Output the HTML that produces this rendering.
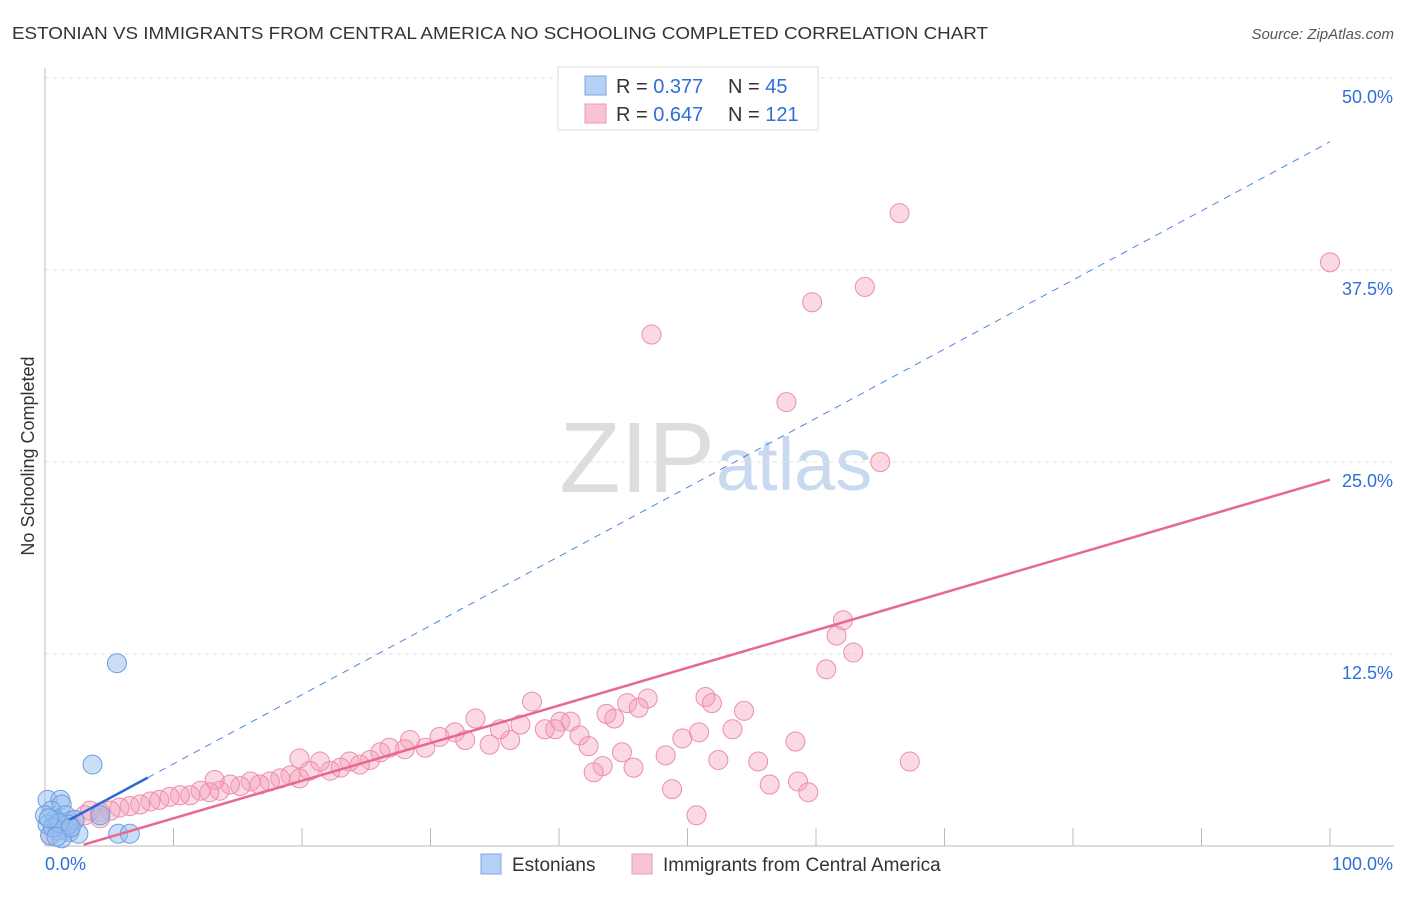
<!DOCTYPE html>
<html><head><meta charset="utf-8"><style>
body{margin:0;background:#fff;font-family:"Liberation Sans",sans-serif;}
svg text{font-family:"Liberation Sans",sans-serif;}
</style></head><body>
<svg width="1406" height="892" id="chart">
<text x="12" y="39" font-size="17.5" fill="#333" textLength="976" lengthAdjust="spacingAndGlyphs">ESTONIAN VS IMMIGRANTS FROM CENTRAL AMERICA NO SCHOOLING COMPLETED CORRELATION CHART</text>
<text x="1394" y="39" font-size="15" fill="#555" font-style="italic" text-anchor="end">Source: ZipAtlas.com</text>
<text x="34" y="456" font-size="18" fill="#333" text-anchor="middle" transform="rotate(-90 34 456)">No Schooling Completed</text>
<text x="715" y="492" font-size="100" fill="#ddd" text-anchor="end" font-family="Liberation Serif">ZIP</text>
<text x="716" y="490" font-size="74" fill="#c9d9f0">atlas</text>
<g id="grid"></g><g id="axes"></g><g id="pts"></g><g id="lines"></g>
<g>
<rect x="558" y="67" width="260" height="63" fill="#fff" stroke="#ddd"/>
<rect x="585" y="76" width="21" height="19" fill="#b5d0f5" stroke="#7aa6e3"/>
<rect x="585" y="104" width="21" height="19" fill="#fac3d3" stroke="#ee99b3"/>
<text x="616" y="93" font-size="20" fill="#333">R = <tspan fill="#2f6fd6">0.377</tspan></text>
<text x="728" y="93" font-size="20" fill="#333">N = <tspan fill="#2f6fd6"> 45</tspan></text>
<text x="616" y="121" font-size="20" fill="#333">R = <tspan fill="#2f6fd6">0.647</tspan></text>
<text x="728" y="121" font-size="20" fill="#333">N = <tspan fill="#2f6fd6">121</tspan></text>
</g>
<g>
<rect x="481" y="854" width="20" height="20" fill="#b5d0f5" stroke="#7aa6e3"/>
<text x="512" y="871" font-size="19" fill="#333">Estonians</text>
<rect x="632" y="854" width="20" height="20" fill="#fac3d3" stroke="#ee99b3"/>
<text x="663" y="871" font-size="19" fill="#333">Immigrants from Central America</text>
</g>
</svg>
<script>
const yTicks=[12.5,25,37.5,50];
const yTickLabels=["12.5%","25.0%","37.5%","50.0%"];
const blueX=[5.6,3.7,5.7,6.6,0.2,1.2,1.3,0.5,1.6,0.8,0.2,1.0,1.9,2.6,0.4,1.3,0,2.3,4.3,1.8,0.6,1.1,0.3,2.0,0.9];
const blueY=[11.9,5.3,0.8,0.8,3.0,3.0,2.7,2.3,2.0,1.7,1.4,1.0,0.9,0.8,0.7,0.5,2.0,1.7,2.0,1.4,1.2,1.5,1.8,1.2,0.6];
const pinkX=[66.5,100,63.8,59.7,47.2,57.7,65.0,62.1,61.6,62.9,60.8,51.4,51.9,54.4,46.9,45.3,46.2,43.7,44.3,37.9,33.5,53.5,50.9,49.6,58.4,52.4,55.5,67.3,48.3,44.9,45.8,43.4,42.7,56.4,58.6,59.4,48.8,50.7,
37.0,38.9,40.1,40.9,39.7,41.6,42.3,36.2,35.4,34.6,32.7,31.9,30.7,29.6,28.4,28.0,26.8,26.1,25.3,24.5,23.7,23.0,22.2,21.4,20.6,19.8,19.8,19.1,18.3,17.5,16.7,16.0,15.2,14.4,13.6,13.2,12.8,12.1,11.3,10.5,9.7,8.9,8.2,7.4,6.6,5.8,5.1,4.3,3.5,3.1,2.3,1.9,1.2,0.8,4.3,0.4,1.6,1.0,2.0];
const pinkY=[41.2,38.0,36.4,35.4,33.3,28.9,25.0,14.7,13.7,12.6,11.5,9.7,9.3,8.8,9.6,9.3,9.0,8.6,8.3,9.4,8.3,7.6,7.4,7.0,6.8,5.6,5.5,5.5,5.9,6.1,5.1,5.2,4.8,4.0,4.2,3.5,3.7,2.0,
7.9,7.6,8.1,8.1,7.6,7.2,6.5,6.9,7.6,6.6,6.9,7.4,7.1,6.4,6.9,6.3,6.4,6.1,5.6,5.3,5.5,5.1,4.9,5.5,4.9,5.7,4.4,4.6,4.4,4.2,4.0,4.2,3.9,4.0,3.6,4.3,3.5,3.6,3.3,3.3,3.2,3.0,2.9,2.7,2.6,2.5,2.3,2.2,2.3,2.0,1.7,1.6,1.4,1.2,1.8,0.7,1.0,1.5,1.2];
const blueTrend=[0.85,0.45];
const pinkTrend=[-0.65,0.245];
const NS="http://www.w3.org/2000/svg";
const X=v=>45+v*12.85, Y=v=>846-v*15.36;
function mk(p,t,a){const e=document.createElementNS(NS,t);for(const k in a)e.setAttribute(k,a[k]);document.getElementById(p).appendChild(e);return e;}
let e;
yTicks.forEach((t,i)=>{
 e=mk('grid','line',{x1:45,x2:1394,y1:Y(t),y2:Y(t),stroke:'#e2e2e2','stroke-dasharray':'4,4'});
 
 
 e=mk('grid','text',{x:1393,y:Y(t)+25,'font-size':18,fill:'#2f6fd6','text-anchor':'end'});e.textContent=yTickLabels[i];
 
 
});
e=mk('axes','line',{x1:45,x2:45,y1:68,y2:846,stroke:'#bbb'});


e=mk('axes','line',{x1:45,x2:1394,y1:846,y2:846,stroke:'#bbb'});


for(let i=1;i<=10;i++){e=mk('axes','line',{x1:X(i*10),x2:X(i*10),y1:828,y2:846,stroke:'#bbb'});
 
 }
e=mk('axes','text',{x:45,y:870,'font-size':18,fill:'#2f6fd6'});e.textContent='0.0%';


e=mk('axes','text',{x:1393,y:870,'font-size':18,fill:'#2f6fd6','text-anchor':'end'});e.textContent='100.0%';


pinkX.forEach((x,i)=>{e=mk('pts','circle',{cx:X(x),cy:Y(pinkY[i]),r:9.5,fill:'rgba(244,160,185,0.4)',stroke:'#ec8eab','stroke-width':1});
 
 });
blueX.forEach((x,i)=>{e=mk('pts','circle',{cx:X(x),cy:Y(blueY[i]),r:9.5,fill:'rgba(150,190,240,0.5)',stroke:'#6a9ee0','stroke-width':1});
 
 });
const bt=x=>blueTrend[0]+blueTrend[1]*x, pt=x=>pinkTrend[0]+pinkTrend[1]*x;
e=mk('lines','line',{x1:X(8),y1:Y(bt(8)),x2:X(100),y2:Y(bt(100)),stroke:'#4f86dd','stroke-width':1,'stroke-dasharray':'7,6'});


e=mk('lines','line',{x1:X(1.9),y1:Y(bt(1.9)),x2:X(8),y2:Y(bt(8)),stroke:'#2a6ad6','stroke-width':2.5});


e=mk('lines','line',{x1:X(3),y1:Y(pt(3)),x2:X(100),y2:Y(pt(100)),stroke:'#e8688f','stroke-width':2.5});


</script>
</body></html>
